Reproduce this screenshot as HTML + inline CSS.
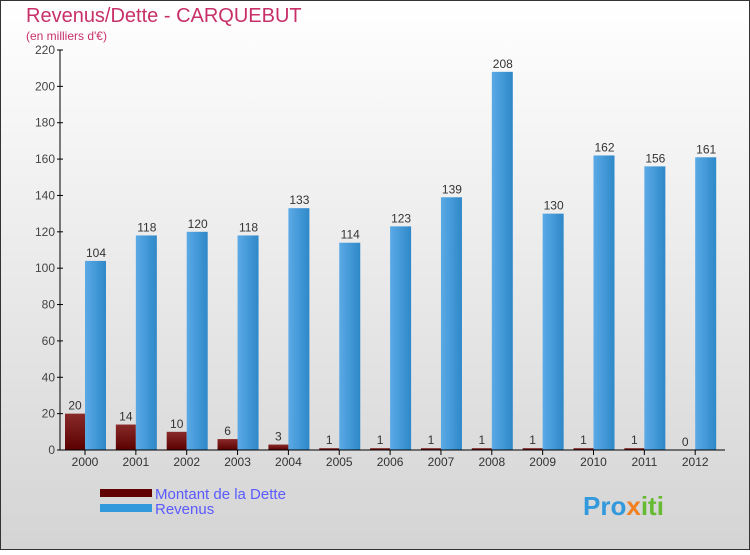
<!DOCTYPE html>
<html><head><meta charset="utf-8"><style>
html,body{margin:0;padding:0}
body{width:750px;height:550px;overflow:hidden;font-family:"Liberation Sans",sans-serif}
</style></head><body>
<svg width="750" height="550" xmlns="http://www.w3.org/2000/svg">
<defs>
<linearGradient id="bg" x1="0" y1="0" x2="0" y2="1"><stop offset="0" stop-color="#ffffff"/><stop offset="1" stop-color="#d4d4d4"/></linearGradient>
<linearGradient id="gr" x1="0" y1="0" x2="1" y2="0"><stop offset="0" stop-color="#5aaae6"/><stop offset="1" stop-color="#2f88c8"/></linearGradient>
<linearGradient id="gd" x1="0" y1="0" x2="0" y2="1"><stop offset="0" stop-color="#8a2a2a"/><stop offset="1" stop-color="#5a0000"/></linearGradient>
</defs>
<rect x="0.5" y="0.5" width="749" height="549" fill="url(#bg)" stroke="#333"/>
<text x="26" y="22" font-size="20" fill="#c8306a">Revenus/Dette - CARQUEBUT</text>
<text x="26" y="40" font-size="12" fill="#c8306a">(en milliers d'€)</text>
<g id="plot"></g>
<g>
<rect x="100" y="489" width="52" height="8" fill="#600000"/>
<text x="155" y="499" font-size="15" fill="#5a5aff">Montant de la Dette</text>
<rect x="100" y="504" width="52" height="8" fill="#3399dd"/>
<text x="155" y="514" font-size="15" fill="#5a5aff">Revenus</text>
</g>
<text x="583" y="515" font-size="26" font-weight="bold" fill="#3399dd">Pro<tspan fill="#f08020">x</tspan><tspan fill="#66bb33">iti</tspan></text>
</svg>
<script>
const years=["2000","2001","2002","2003","2004","2005","2006","2007","2008","2009","2010","2011","2012"];
const dette=[20,14,10,6,3,1,1,1,1,1,1,1,0];
const revenus=[104,118,120,118,133,114,123,139,208,130,162,156,161];
const yTicks=[0,20,40,60,80,100,120,140,160,180,200,220];
const NS="http://www.w3.org/2000/svg";
const g=document.getElementById('plot');
const y0=450,yTop=50,yMax=220;
const y=v=>y0-(v/yMax)*(y0-yTop);
const gx=i=>65+50.85*i;
function mk(t,a,txt){const e=document.createElementNS(NS,t);for(const k in a)e.setAttribute(k,a[k]);if(txt!==undefined)e.textContent=txt;g.appendChild(e);return e;}
yTicks.forEach(v=>{
 const l=mk('line',{x1:57,x2:63,y1:y(v),y2:y(v),stroke:'#000'});
 
 
 const t=mk('text',{x:55,y:y(v)+4,'text-anchor':'end','font-size':12,fill:'#444'},v);
 
 
});
years.forEach((yr,i)=>{
 const x=gx(i);
 const bd=mk('rect',{x:x,y:y(dette[i]),width:20,height:y0-y(dette[i]),fill:'url(#gd)'});
 
 
 const br=mk('rect',{x:x+20,y:y(revenus[i]),width:21,height:y0-y(revenus[i]),fill:'url(#gr)'});
 
 
 const td=mk('text',{x:x+10,y:y(dette[i])-4,'text-anchor':'middle','font-size':12,fill:'#333'},dette[i]);
 
 
 const tr=mk('text',{x:x+31,y:y(revenus[i])-4,'text-anchor':'middle','font-size':12,fill:'#333'},revenus[i]);
 
 
 const tk=mk('line',{x1:x+20,x2:x+20,y1:450,y2:455,stroke:'#000'});
 
 
 const xl=mk('text',{x:x+20,y:466,'text-anchor':'middle','font-size':12,fill:'#333'},yr);
 
 
});
const ya=mk('line',{x1:60,x2:60,y1:50,y2:450,stroke:'#000'});


const xa=mk('line',{x1:60,x2:725,y1:450,y2:450,stroke:'#000'});


</script>
</body></html>
